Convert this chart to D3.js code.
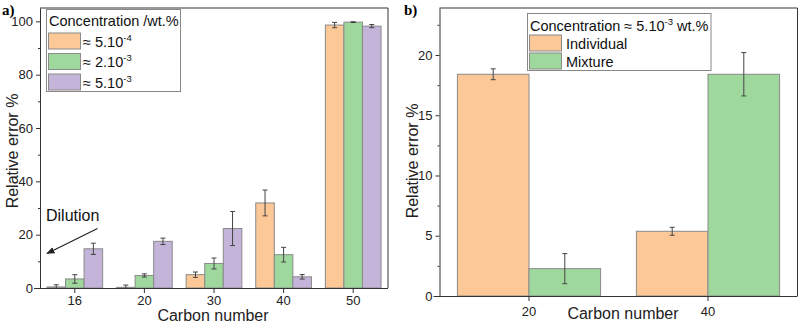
<!DOCTYPE html>
<html>
<head>
<meta charset="utf-8">
<script src="https://cdn.jsdelivr.net/npm/d3@7"></script>
<style>
  body { margin: 0; background: #fff; }
  svg { font-family: "Liberation Sans", Arial, sans-serif; }
</style>
</head>
<body>
<div id="chart"></div>
<script>
// panel a data
var carbonA = ["16", "20", "30", "40", "50"],
    lowConc = [0.4, 0.25, 5.0, 31.9, 98.6],
    lowErr = [0.8, 0.85, 1.0, 4.85, 1.0],
    midConc = [3.4, 4.7, 9.2, 12.5, 99.7],
    midErr = [1.6, 0.6, 2.05, 2.75, 0.15],
    highConc = [14.7, 17.5, 22.3, 4.2, 98.2],
    highErr = [2.1, 1.2, 6.4, 0.85, 0.6],
    legendBaseA = ["\u2248 5.10", "\u2248 2.10", "\u2248 5.10"],
    legendExpA = ["-4", "-3", "-3"];

// panel b data
var carbonB = ["20", "40"],
    individual = [18.4, 5.37],
    individualErr = [0.45, 0.33],
    mixture = [2.27, 18.4],
    mixtureErr = [1.25, 1.8],
    legendB = ["Individual", "Mixture"];

var colors = ["#fdc897", "#9ed89d", "#c4b4da"],
    barStroke = "#8a8a8a",
    axisColor = "#333";

var svg = d3.select("#chart").append("svg")
    .attr("width", 800)
    .attr("height", 323);

// arrowhead
svg.append("defs").append("marker")
    .attr("id", "arrow")
    .attr("viewBox", "0 0 10 10")
    .attr("refX", 9).attr("refY", 5)
    .attr("markerWidth", 7).attr("markerHeight", 7)
    .attr("orient", "auto")
    .append("path")
    .attr("d", "M0,1 L10,5 L0,9 Z")
    .attr("fill", "#222");

function drawPanel(opt) {
    var g = svg.append("g");
    var m = opt.box;

    var x = d3.scaleBand()
        .domain(opt.categories)
        .range([m.left, m.right])
        .paddingInner(0.2)
        .paddingOuter(0.1);

    var xs = d3.scaleBand()
        .domain(d3.range(opt.series.length))
        .range([0, x.bandwidth()]);

    var y = d3.scaleLinear()
        .domain(opt.yDomain)
        .range([m.bottom, m.top]);

    // bars
    opt.series.forEach(function (vals, si) {
        g.append("g").selectAll("rect")
            .data(vals)
            .enter().append("rect")
            .attr("x", (d, i) => x(opt.categories[i]) + xs(si))
            .attr("width", xs.bandwidth())
            .attr("y", d => y(d))
            .attr("height", d => y(0) - y(d))
            .attr("fill", colors[si])
            .attr("stroke", barStroke)
            .attr("stroke-width", 1);
    });

    // error bars
    opt.series.forEach(function (vals, si) {
        var errs = opt.errors[si];
        var eg = g.append("g").attr("stroke", "#444").attr("stroke-width", 1);
        vals.forEach(function (v, i) {
            var cx = x(opt.categories[i]) + xs(si) + xs.bandwidth() / 2;
            var lo = Math.max(v - errs[i], 0), hi = v + errs[i];
            eg.append("line").attr("x1", cx).attr("x2", cx).attr("y1", y(lo)).attr("y2", y(hi));
            eg.append("line").attr("x1", cx - 2.5).attr("x2", cx + 2.5).attr("y1", y(hi)).attr("y2", y(hi));
            if (v - errs[i] > 0)
                eg.append("line").attr("x1", cx - 2.5).attr("x2", cx + 2.5).attr("y1", y(lo)).attr("y2", y(lo));
        });
    });

    // frame top/right
    g.append("path")
        .attr("d", "M" + m.left + "," + m.top + "H" + m.right + "V" + m.bottom)
        .attr("fill", "none")
        .attr("stroke", axisColor);

    // y axis
    g.append("g")
        .attr("transform", "translate(" + m.left + ",0)")
        .call(d3.axisLeft(y).tickValues(opt.yTicks).tickSize(4).tickSizeOuter(0).tickPadding(3));
    g.append("g")
        .attr("transform", "translate(" + m.left + ",0)")
        .call(d3.axisLeft(y).tickValues(opt.yMinor).tickSize(2).tickSizeOuter(0).tickFormat(""))
        .call(a => a.select(".domain").remove());

    // x axis
    var xAxis = g.append("g")
        .attr("transform", "translate(0," + m.bottom + ")")
        .call(d3.axisBottom(x).tickSize(5).tickSizeOuter(0).tickPadding(opt.xPad));
    xAxis.select(".domain").attr("d", "M" + (m.left - 6) + ",0.5H" + m.right);

    g.selectAll(".tick text").attr("font-size", 13).attr("fill", "#222")
        .attr("font-family", "Liberation Sans, Arial, sans-serif");
    g.selectAll(".domain, .tick line").attr("stroke", axisColor);

    // axis titles
    g.append("text")
        .attr("transform", "translate(" + opt.yLabelX + "," + opt.yLabelY + ") rotate(-90)")
        .attr("text-anchor", "middle")
        .attr("font-size", 16)
        .attr("fill", "#222")
        .text("Relative error %");
    g.append("text")
        .attr("x", opt.xLabelX)
        .attr("y", opt.xLabelY)
        .attr("text-anchor", "middle")
        .attr("font-size", 16)
        .attr("fill", "#222")
        .text("Carbon number");

    // panel letter
    g.append("text")
        .attr("x", opt.letterX)
        .attr("y", 15)
        .attr("font-family", "Liberation Serif, Times New Roman, serif")
        .attr("font-weight", "bold")
        .attr("font-size", 15)
        .text(opt.letter);

    return {g: g, x: x, y: y};
}

// ---- panel a ----
var pa = drawPanel({
    box: {left: 40, right: 388, top: 8, bottom: 288},
    categories: carbonA,
    series: [lowConc, midConc, highConc],
    errors: [lowErr, midErr, highErr],
    yDomain: [0, 105],
    yTicks: [0, 20, 40, 60, 80, 100],
    yMinor: [10, 30, 50, 70, 90],
    xPad: 3,
    yLabelX: 18, yLabelY: 151,
    xLabelX: 213, xLabelY: 321,
    letterX: 2, letter: "a)"
});

// legend a
var la = pa.g.append("g");
la.append("rect")
    .attr("x", 46.5).attr("y", 9.5).attr("width", 134).attr("height", 82)
    .attr("fill", "#fff").attr("stroke", "#888");
la.append("text")
    .attr("x", 49).attr("y", 26)
    .attr("font-size", 14.5).attr("fill", "#111")
    .text("Concentration /wt.%");
legendBaseA.forEach(function (t, i) {
    var yy = 33 + i * 20.5;
    la.append("rect")
        .attr("x", 48.5).attr("y", yy).attr("width", 32).attr("height", 16)
        .attr("fill", colors[i]).attr("stroke", barStroke);
    var tx = la.append("text")
        .attr("x", 83).attr("y", yy + 13.5)
        .attr("font-size", 14.5).attr("fill", "#111");
    tx.append("tspan").text(t);
    tx.append("tspan").attr("font-size", 9.5).attr("dy", -6).text(legendExpA[i]);
});

// dilution annotation
pa.g.append("text")
    .attr("x", 46).attr("y", 221)
    .attr("font-size", 16).attr("fill", "#111")
    .text("Dilution");
pa.g.append("line")
    .attr("x1", 97.5).attr("y1", 228.5)
    .attr("x2", 47).attr("y2", 253.5)
    .attr("stroke", "#222").attr("stroke-width", 1.2)
    .attr("marker-end", "url(#arrow)");

// ---- panel b ----
var pb = drawPanel({
    box: {left: 439.5, right: 797.5, top: 8, bottom: 296},
    categories: carbonB,
    series: [individual, mixture],
    errors: [individualErr, mixtureErr],
    yDomain: [0, 23.9],
    yTicks: [0, 5, 10, 15, 20],
    yMinor: [2.5, 7.5, 12.5, 17.5, 22.5],
    xPad: 6,
    yLabelX: 418, yLabelY: 161,
    xLabelX: 623, xLabelY: 319,
    letterX: 404, letter: "b)"
});

// legend b
var lb = pb.g.append("g");
lb.append("rect")
    .attr("x", 527.5).attr("y", 13.5).attr("width", 183.5).attr("height", 57)
    .attr("fill", "#fff").attr("stroke", "#888");
var tb = lb.append("text")
    .attr("x", 530).attr("y", 31)
    .attr("font-size", 14.5).attr("fill", "#111");
tb.append("tspan").text("Concentration \u2248 5.10");
tb.append("tspan").attr("font-size", 9.5).attr("dy", -6).text("-3");
tb.append("tspan").attr("dy", 6).text(" wt.%");
legendB.forEach(function (t, i) {
    var yy = 35 + i * 18;
    lb.append("rect")
        .attr("x", 529.5).attr("y", yy).attr("width", 32).attr("height", 16)
        .attr("fill", colors[i]).attr("stroke", barStroke);
    lb.append("text")
        .attr("x", 566).attr("y", yy + 13.5)
        .attr("font-size", 14.5).attr("fill", "#111")
        .text(t);
});
</script>
</body>
</html>
